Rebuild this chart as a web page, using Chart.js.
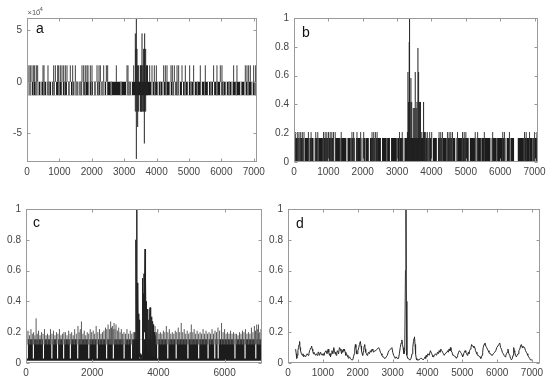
<!DOCTYPE html>
<html><head><meta charset="utf-8">
<script src="https://cdn.jsdelivr.net/npm/chart.js@4.4.1/dist/chart.umd.min.js"></script>
<style>
html,body{margin:0;padding:0;background:#fff;}
#wrap{position:relative;width:550px;height:384px;overflow:hidden;}
canvas{position:absolute;}
</style></head><body>
<div id="wrap">
<canvas id="ca" width="275" height="192" style="left:0;top:0"></canvas>
<canvas id="cc" width="275" height="192" style="left:0;top:192px"></canvas>
<canvas id="cb" width="300" height="192" style="left:250px;top:0"></canvas>
<canvas id="cd" width="300" height="192" style="left:250px;top:192px"></canvas>
</div>
<script>
// ---------- Panel a (values in units of 1e-4) ----------
const aXTicks=[0,1000,2000,3000,4000,5000,6000,7000];
const aYTicks=[-5,0,5];
const aSpan=[0,7100];
const aBandLevel=-1.3;
const aUpLevel=1.6;
const aGapX=[60,130,340,430,610,760,880,1090,1250,1340,1480,1600,1720,1920,2050,2150,2280,2380,2460,3080,3220,3860,4050,4200,4420,4560,4700,4800,4980,5160,5380,5600,5760,5980,6150,6330,6600,6730,6950];
const aSoftGapX=[95,200,280,520,680,830,990,1160,1300,1410,1540,1660,1800,1990,2100,2210,2330,2600,2900,3150,3940,4120,4300,4500,4640,4880,5060,5260,5480,5680,5860,6060,6240,6460,6820,7040];
const aSpikeX=[21,62,103,154,206,237,288,329,494,525,648,823,875,947,978,1029,1080,1132,1183,1235,1337,1410,1492,1698,1749,1800,1852,1883,1955,2007,2161,2223,2264,2367,2449,2490,2758,3087,3118,3293,3787,3859,3931,3993,4219,4270,4322,4445,4486,4548,4631,4682,4785,4888,5021,5144,5350,5504,5761,5864,5967,6019,6379,6482,6739,6791,6842,6894,6997,7059,7095];
const aEvX=[3344,3360,3375,3396,3416,3447,3500,3515,3530,3550,3575,3601,3622,3632,3663,3690,3720];
const aEvLo=[-2.9,-1.3,-7.5,-2.9,-4.4,-2.9,-2.9,-2.9,-2.9,-2.9,-2.9,-2.9,-6.0,-2.9,-2.9,-1.3,-1.3];
const aEvHi=[4.7,3.2,6.2,3.2,1.6,1.6,1.6,1.6,1.6,4.7,1.6,3.2,3.2,4.7,3.2,1.6,1.6];

// ---------- Panel b ----------
const bXTicks=[0,1000,2000,3000,4000,5000,6000,7000];
const bYTicks=[0,0.2,0.4,0.6,0.8,1];
const bSpan=[0,7100];
const bBandLevel=0.167;
const bUpLevel=0.208;
const bGapX=[300,585,857,1180,1540,1785,1980,2193,2370,2545,2808,3198,4026,4173,4320,4611,4709,5100,5294,5733,6171,6420,6445,6470,6495];
const bSoftGapX=[150,450,700,1000,1350,1660,2080,2700,3000,3900,4450,4900,5450,5900,6300,6700,6950];
const bSpikeX=[15,48,107,146,195,243,292,419,497,633,692,858,906,955,1004,1053,1101,1150,1199,1374,1686,1735,1833,1940,2028,2271,2320,2369,2418,3071,3149,3783,3831,3880,3948,4007,4221,4270,4319,4465,4514,4563,4611,4758,4904,4953,5001,5274,5343,5538,5781,6074,6123,6269,6708,6756,6854,7000,7068];
const bEvX=[3300,3315,3334,3353,3363,3380,3402,3425,3470,3500,3528,3555,3580,3606,3626,3650,3680,3720,3771,3800];
const bEvH=[0.208,0.625,0.417,0.833,1.0,0.417,0.583,0.417,0.375,0.375,0.625,0.375,0.417,0.792,0.625,0.417,0.417,0.208,0.417,0.208];

// ---------- Panel c ----------
const cXTicks=[0,2000,4000,6000];
const cYTicks=[0,0.2,0.4,0.6,0.8,1];
const cSpan=[0,7130];
const cBandLow=0.015;
const cBandHigh=0.155;
const cGapX=[41,223,528,782,954,1137,1340,1563,1898,2152,2436,2639,2964,3187,3450,3470,3490,3979,4284,4537,4892,5217,5501,5704,5806,6313,6618,6943];
const cSpikeX=[20,60,105,150,190,230,270,305,340,380,425,470,515,560,605,650,695,740,785,830,875,920,965,1010,1055,1100,1145,1190,1240,1290,1335,1380,1425,1470,1520,1570,1605,1640,1675,1720,1760,1805,1850,1895,1940,1985,2030,2075,2120,2170,2220,2265,2310,2355,2400,2440,2480,2520,2558,2585,2610,2635,2660,2690,2720,2760,2800,2840,2880,2920,2960,3005,3050,3100,3150,3195,3240,3900,3940,3980,4020,4060,4105,4150,4195,4240,4285,4330,4375,4420,4465,4510,4555,4600,4645,4690,4735,4780,4825,4870,4915,4960,4994,5040,5080,5125,5170,5215,5260,5305,5350,5395,5440,5485,5530,5575,5620,5665,5710,5755,5800,5850,5908,5955,6000,6045,6090,6135,6180,6225,6270,6315,6360,6405,6450,6495,6540,6585,6630,6675,6720,6765,6810,6855,6900,6935,6970,7000,7024,7060,7100];
const cSpikeH=[0.19,0.21,0.18,0.22,0.19,0.2,0.18,0.29,0.19,0.21,0.18,0.2,0.19,0.22,0.18,0.19,0.18,0.22,0.19,0.21,0.18,0.2,0.19,0.22,0.18,0.19,0.2,0.2,0.18,0.21,0.19,0.2,0.18,0.22,0.19,0.24,0.2,0.22,0.27,0.19,0.21,0.18,0.2,0.19,0.22,0.2,0.21,0.19,0.24,0.2,0.22,0.19,0.2,0.21,0.23,0.22,0.25,0.22,0.27,0.23,0.24,0.22,0.26,0.22,0.25,0.21,0.23,0.2,0.22,0.19,0.2,0.19,0.22,0.19,0.21,0.19,0.2,0.24,0.2,0.22,0.19,0.2,0.19,0.21,0.2,0.24,0.2,0.22,0.19,0.2,0.19,0.21,0.2,0.23,0.2,0.26,0.2,0.22,0.19,0.21,0.19,0.2,0.25,0.2,0.22,0.19,0.21,0.19,0.2,0.19,0.22,0.19,0.21,0.19,0.2,0.19,0.22,0.19,0.21,0.2,0.23,0.21,0.26,0.2,0.22,0.19,0.2,0.19,0.21,0.19,0.2,0.19,0.19,0.18,0.2,0.19,0.21,0.2,0.22,0.19,0.2,0.19,0.23,0.2,0.24,0.21,0.25,0.22,0.25,0.2,0.22];
const cEvX=[3250,3270,3290,3305,3315,3323,3333,3343,3353,3362,3372,3382,3392,3402,3412,3422,3432,3445,3460,3475,3490,3505,3515,3525,3535,3545,3555,3565,3575,3585,3596,3606,3616,3626,3636,3646,3656,3670,3685,3697,3710,3722,3735,3747,3760,3773,3786,3798,3812,3825,3837,3848,3862,3875,3890,3905];
const cEvY=[0.15,0.03,0.2,0.05,0.3,0.8,0.15,1.0,0.2,0.52,0.1,0.48,0.08,0.32,0.05,0.28,0.04,0.06,0.03,0.05,0.03,0.06,0.2,0.55,0.08,0.45,0.1,0.58,0.2,0.5,0.74,0.15,0.55,0.2,0.4,0.12,0.35,0.08,0.3,0.06,0.28,0.1,0.33,0.36,0.05,0.3,0.08,0.3,0.05,0.27,0.04,0.25,0.06,0.2,0.04,0.18];

// ---------- Panel d ----------
const dXTicks=[0,1000,2000,3000,4000,5000,6000,7000];
const dYTicks=[0,0.2,0.4,0.6,0.8,1];
const dX=[219,235,250,267,285,300,318,333,345,360,385,410,430,450,478,505,528,550,575,600,620,640,660,676,695,710,728,743,765,790,815,838,860,880,905,933,955,980,1005,1029,1060,1090,1120,1152,1170,1190,1205,1219,1240,1260,1290,1314,1332,1350,1365,1381,1400,1420,1450,1476,1500,1520,1535,1552,1570,1590,1605,1619,1640,1660,1678,1695,1720,1740,1765,1790,1825,1857,1880,1900,1915,1933,1948,1960,1970,1981,2005,2030,2050,2076,2095,2110,2128,2143,2158,2170,2185,2200,2215,2230,2250,2267,2290,2310,2335,2362,2385,2410,2435,2457,2490,2520,2560,2600,2625,2650,2675,2695,2720,2740,2765,2790,2820,2850,2875,2900,2940,2981,3005,3030,3055,3076,3105,3130,3150,3171,3195,3220,3245,3267,3285,3300,3325,3350,3370,3385,3398,3410,3435,3460,3485,3505,3530,3560,3580,3600,3615,3629,3645,3660,3680,3695,3730,3760,3800,3838,3875,3914,3932,3950,3965,3981,4015,4050,4085,4124,4142,4160,4180,4200,4230,4260,4290,4314,4336,4360,4385,4410,4435,4460,4483,4505,4530,4560,4580,4600,4620,4640,4660,4676,4705,4730,4760,4790,4810,4830,4850,4867,4895,4920,4950,4981,4995,5010,5025,5038,5060,5080,5100,5124,5142,5160,5175,5190,5210,5230,5250,5267,5290,5310,5335,5362,5380,5400,5420,5438,5465,5490,5510,5533,5550,5570,5585,5600,5625,5650,5675,5700,5720,5743,5765,5790,5815,5838,5865,5890,5910,5933,5960,5990,6020,6048,6075,6100,6125,6150,6175,6200,6215,6230,6250,6267,6290,6310,6335,6362,6385,6410,6435,6457,6470,6480,6493,6505,6528,6550,6575,6600,6625,6650,6672,6695,6718,6740,6765,6790,6815,6838,6860,6880,6905,6933,6955,6980,7005,7029,7055,7080,7100,7124,7150,7180];
const dY=[0.09,0.06,0.03,0.05,0.08,0.1,0.12,0.14,0.1,0.08,0.06,0.05,0.06,0.04,0.05,0.04,0.05,0.06,0.05,0.06,0.08,0.09,0.1,0.11,0.09,0.08,0.06,0.07,0.06,0.05,0.06,0.05,0.07,0.07,0.05,0.07,0.06,0.05,0.06,0.05,0.07,0.08,0.06,0.09,0.07,0.05,0.06,0.04,0.06,0.08,0.06,0.1,0.08,0.06,0.07,0.05,0.07,0.08,0.06,0.1,0.09,0.08,0.06,0.08,0.07,0.09,0.08,0.09,0.07,0.05,0.06,0.05,0.04,0.03,0.04,0.03,0.02,0.02,0.04,0.06,0.09,0.12,0.1,0.08,0.06,0.06,0.08,0.1,0.12,0.14,0.11,0.08,0.06,0.05,0.07,0.08,0.11,0.12,0.09,0.07,0.06,0.05,0.06,0.07,0.06,0.08,0.07,0.09,0.08,0.07,0.08,0.08,0.09,0.1,0.09,0.07,0.06,0.05,0.04,0.04,0.03,0.03,0.04,0.05,0.07,0.08,0.09,0.1,0.07,0.05,0.04,0.03,0.04,0.03,0.03,0.03,0.06,0.1,0.13,0.15,0.12,0.1,0.06,0.08,0.6,1.0,0.4,0.05,0.03,0.03,0.02,0.02,0.03,0.06,0.1,0.14,0.16,0.17,0.12,0.06,0.03,0.02,0.02,0.02,0.03,0.03,0.02,0.03,0.04,0.03,0.05,0.04,0.06,0.05,0.08,0.06,0.05,0.04,0.04,0.05,0.06,0.05,0.07,0.06,0.08,0.07,0.09,0.08,0.07,0.06,0.05,0.06,0.06,0.07,0.08,0.07,0.09,0.08,0.1,0.08,0.07,0.05,0.05,0.04,0.04,0.03,0.04,0.05,0.07,0.08,0.07,0.06,0.05,0.04,0.05,0.06,0.07,0.08,0.07,0.06,0.05,0.06,0.07,0.06,0.08,0.09,0.1,0.12,0.11,0.11,0.1,0.1,0.08,0.07,0.06,0.05,0.05,0.04,0.04,0.03,0.04,0.05,0.07,0.1,0.12,0.13,0.11,0.1,0.09,0.08,0.07,0.06,0.06,0.05,0.05,0.06,0.06,0.07,0.08,0.1,0.11,0.12,0.13,0.1,0.09,0.07,0.06,0.05,0.05,0.04,0.05,0.06,0.07,0.09,0.06,0.05,0.03,0.02,0.03,0.05,0.08,0.1,0.08,0.07,0.05,0.04,0.05,0.06,0.08,0.09,0.11,0.12,0.1,0.11,0.1,0.1,0.08,0.07,0.06,0.05,0.04,0.03,0.02,0.02,0.02];

// ---------- helpers ----------
function vlines(xs, lo, hi){
  const out=[];
  xs.forEach((x,i)=>{
    out.push({x:x,y:Array.isArray(lo)?lo[i]:lo});
    out.push({x:x,y:Array.isArray(hi)?hi[i]:hi});
    out.push({x:x,y:null});
  });
  return out;
}
function pts(xs, ys){ return xs.map((x,i)=>({x:x,y:ys[i]})); }
function ds(data, color, width, order, extra){
  return Object.assign({data:data,borderColor:color,borderWidth:width,pointRadius:0,fill:false,spanGaps:false,order:order,tension:0}, extra||{});
}
const FONT='"Liberation Sans", Arial, sans-serif';

const frame={
  id:'frame',
  afterDraw(c, args, opts){
    const ctx=c.ctx, a=c.chartArea, x=c.scales.x, y=c.scales.y;
    ctx.save();
    ctx.strokeStyle='#9a9a9a'; ctx.lineWidth=1;
    const L=Math.round(a.left)+0.5, T=Math.round(a.top)+0.5, R=Math.round(a.right)-0.5, B=Math.round(a.bottom)-0.5;
    ctx.strokeRect(L,T,R-L,B-T);
    ctx.beginPath();
    x.ticks.forEach(t=>{const p=Math.round(x.getPixelForValue(t.value))+0.5; ctx.moveTo(p,B); ctx.lineTo(p,B-3); ctx.moveTo(p,T); ctx.lineTo(p,T+3);});
    y.ticks.forEach(t=>{const p=Math.round(y.getPixelForValue(t.value))+0.5; ctx.moveTo(L,p); ctx.lineTo(L+3,p); ctx.moveTo(R,p); ctx.lineTo(R-3,p);});
    ctx.stroke();
    ctx.fillStyle='#111';
    ctx.font='14px '+FONT;
    ctx.textBaseline='alphabetic'; ctx.textAlign='left';
    ctx.fillText(opts.letter, a.left+opts.lx, a.top+opts.ly);
    if(opts.exp){
      ctx.fillStyle='#555';
      ctx.font='7.5px '+FONT;
      ctx.fillText('\u00d710', a.left+0.5, a.top-3);
      ctx.font='6px '+FONT;
      ctx.fillText(opts.exp, a.left+10.5, a.top-7);
    }
    ctx.restore();
  }
};

function makeChart(id,o){
  return new Chart(document.getElementById(id),{
    type:'line',
    data:{datasets:o.datasets},
    options:{
      responsive:false, animation:false, events:[], devicePixelRatio:1,
      layout:{padding:o.pad},
      plugins:{legend:{display:false},tooltip:{enabled:false},frame:o.frame},
      scales:{
        x:{type:'linear',min:o.xMin,max:o.xMax,
           afterBuildTicks:s=>{s.ticks=o.xTicks.map(v=>({value:v}));},
           afterFit:s=>{s.height=o.xH;},
           grid:{display:false,drawTicks:false},border:{display:false},
           ticks:{padding:4,color:'#444',font:{family:FONT,size:10},maxRotation:0,autoSkip:false,callback:v=>String(v)}},
        y:{type:'linear',min:o.yMin,max:o.yMax,
           afterBuildTicks:s=>{s.ticks=o.yTicks.map(v=>({value:v}));},
           afterFit:s=>{s.width=o.yW;},
           grid:{display:false,drawTicks:false},border:{display:false},
           ticks:{padding:5,color:'#444',font:{family:FONT,size:10},autoSkip:false,callback:v=>String(v)}}
      }
    },
    plugins:[frame]
  });
}

// a
makeChart('ca',{
  pad:{top:18,right:18,left:0,bottom:0}, yW:27, xH:30,
  xMin:0,xMax:7100,yMin:-7.8,yMax:6.2,xTicks:aXTicks,yTicks:aYTicks,
  frame:{letter:'a',lx:9,ly:15,exp:'-4'},
  datasets:[
    ds(pts(aSpan,[aBandLevel,aBandLevel]),'rgba(0,0,0,0)',0,6,{fill:'origin',backgroundColor:'#1c1c1c'}),
    ds(vlines(aGapX,0,aBandLevel),'#ffffff',1.1,5),
    ds(vlines(aSoftGapX,0,aBandLevel),'#7a7a7a',1,4),
    ds(vlines(aSpikeX,0,aUpLevel),'#3c3c3c',1,3),
    ds(vlines(aEvX,aEvLo,aEvHi),'#222',1,1)
  ]
});
// b
makeChart('cb',{
  pad:{top:18,right:12,left:0,bottom:0}, yW:44, xH:30,
  xMin:0,xMax:7100,yMin:0,yMax:1,xTicks:bXTicks,yTicks:bYTicks,
  frame:{letter:'b',lx:8,ly:19},
  datasets:[
    ds(pts(bSpan,[bBandLevel,bBandLevel]),'rgba(0,0,0,0)',0,6,{fill:'origin',backgroundColor:'#1c1c1c'}),
    ds(vlines(bGapX,0,bBandLevel),'#ffffff',1.1,5),
    ds(vlines(bSoftGapX,0,bBandLevel),'#7a7a7a',1,4),
    ds(vlines(bSpikeX,0,bUpLevel),'#3c3c3c',1,3),
    ds(vlines(bEvX,0,bEvH),'#222',1,1)
  ]
});
// c
makeChart('cc',{
  pad:{top:17,right:13,left:0,bottom:0}, yW:26, xH:21,
  xMin:0,xMax:7130,yMin:0,yMax:1,xTicks:cXTicks,yTicks:cYTicks,
  frame:{letter:'c',lx:7,ly:18},
  datasets:[
    ds(pts(cSpan,[cBandHigh,cBandHigh]),'rgba(0,0,0,0)',0,5,{fill:{value:cBandLow},backgroundColor:'#1c1c1c'}),
    ds(vlines(cGapX,0.03,cBandHigh),'#ffffff',1.1,4),
    ds(vlines(cSpikeX,0.12,cSpikeH),'#5a5a5a',1,3),
    ds(pts(cEvX,cEvY),'#222',1,1)
  ]
});
// d
makeChart('cd',{
  pad:{top:17,right:10,left:0,bottom:0}, yW:38, xH:21,
  xMin:0,xMax:7230,yMin:0,yMax:1,xTicks:dXTicks,yTicks:dYTicks,
  frame:{letter:'d',lx:8,ly:19},
  datasets:[
    ds(pts(dX,dY),'#2a2a2a',1,1)
  ]
});
</script>
</body></html>
